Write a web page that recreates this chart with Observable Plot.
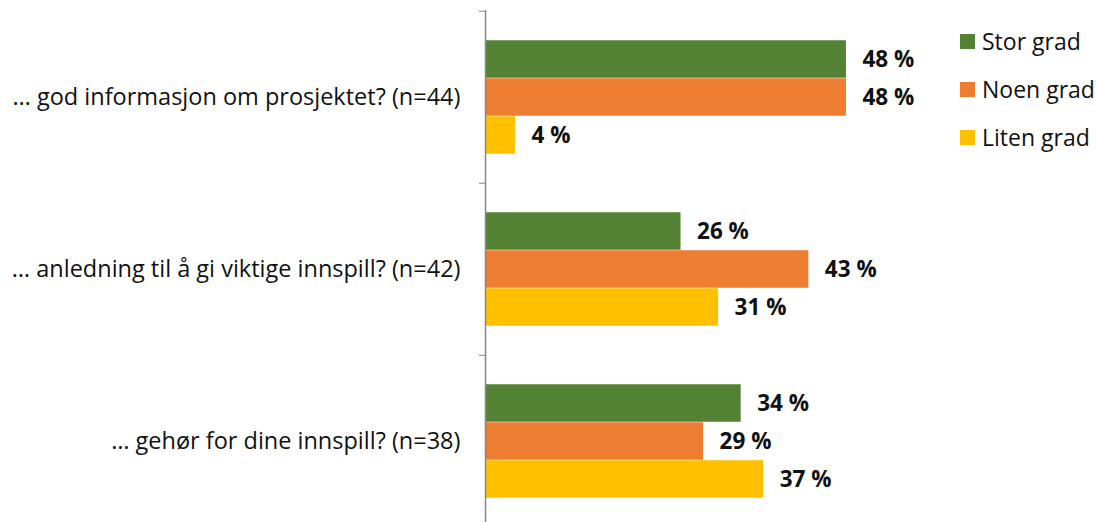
<!DOCTYPE html>
<html>
<head>
<meta charset="utf-8">
<script src="https://cdn.jsdelivr.net/npm/d3@7"></script>
<script src="https://cdn.jsdelivr.net/npm/@observablehq/plot@0.6"></script>
<style>
  html, body { margin: 0; padding: 0; background: #fff; }
  #chart { position: relative; width: 1096px; height: 522px; font-family: "Open Sans", Lato, sans-serif; }
  #legend { position: absolute; left: 960px; top: 17px; }
  .item { display: flex; align-items: center; height: 48px; font-size: 23px; color: #111; }
  .sw { width: 15px; height: 15px; margin-right: 7px; }
</style>
</head>
<body>
<div id="chart"></div>
<script>
const questions = [
  "… god informasjon om prosjektet? (n=44)",
  "… anledning til å gi viktige innspill? (n=42)",
  "… gehør for dine innspill? (n=38)"
];
const series = ["Stor grad", "Noen grad", "Liten grad"];
const colors = ["#548235", "#ED7D31", "#FFC000"];
const storGrad = [48, 26, 34];
const noenGrad = [48, 43, 29];
const litenGrad = [4, 31, 37];

const values = [storGrad, noenGrad, litenGrad];
const rows = series.flatMap((s, i) =>
  questions.map((q, j) => ({question: q, series: s, value: values[i][j], idx: i}))
);

const bandTop = 10, bandStep = 172.5, barH = 38;
const pad = (bandStep - 3 * barH) / 2;

const marks = [];
series.forEach((s, i) => {
  const sub = rows.filter(d => d.series === s);
  marks.push(Plot.barX(sub, {
    x: "value", y: "question", fill: colors[i],
    insetTop: pad + i * barH, insetBottom: pad + (2 - i) * barH
  }));
  marks.push(Plot.text(sub, {
    x: "value", y: "question", text: d => `${d.value} %`,
    textAnchor: "start", dx: 16, dy: (i - 1) * barH,
    fontWeight: "bold", fontSize: 22.5, fill: "#111"
  }));
});

const chart = Plot.plot({
  width: 1096, height: 522,
  marginLeft: 485, marginRight: 235, marginTop: 10, marginBottom: 0,
  style: {fontFamily: "'Open Sans', Lato, sans-serif", background: "#fff"},
  x: {domain: [0, 50], axis: null},
  y: {type: "band", domain: questions, range: [bandTop, bandTop + 3 * bandStep], padding: 0, label: null},
  marks: [
    ...marks,
    Plot.axisY({tickSize: 0, tickPadding: 25, fontSize: 23.5, fill: "#111", label: null}),
    Plot.axisY({tickSize: 6, tickFormat: () => "", dy: -bandStep / 2, stroke: "#868686", label: null}),
    Plot.ruleX([0], {stroke: "#868686", strokeWidth: 1.5})
  ]
});
document.getElementById("chart").appendChild(chart);

const legend = document.createElement("div");
legend.id = "legend";
series.forEach((s, i) => {
  const item = document.createElement("div");
  item.className = "item";
  const sw = document.createElement("span");
  sw.className = "sw";
  sw.style.background = colors[i];
  const label = document.createElement("span");
  label.textContent = s;
  item.append(sw, label);
  legend.appendChild(item);
});
document.getElementById("chart").appendChild(legend);
</script>
</body>
</html>
